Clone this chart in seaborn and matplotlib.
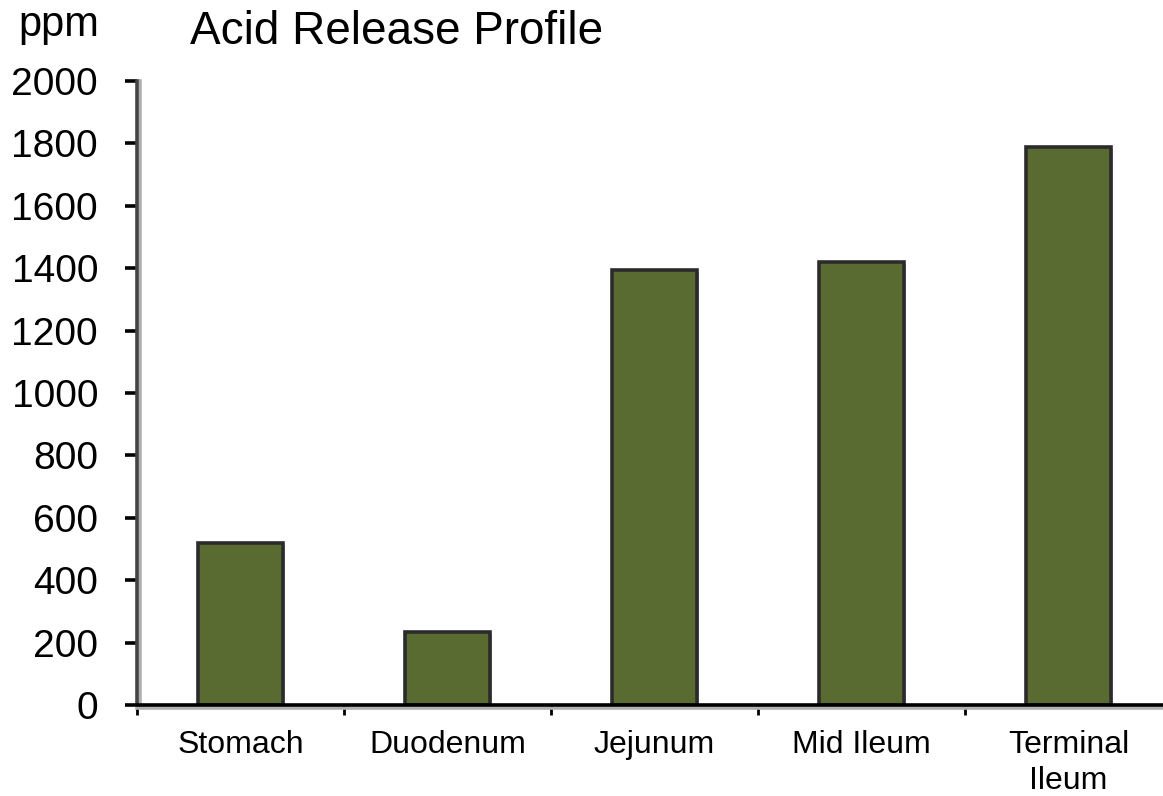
import matplotlib
matplotlib.use("Agg")
import matplotlib.pyplot as plt
import matplotlib.patheffects as pe
from matplotlib.ticker import FixedLocator, MultipleLocator, NullFormatter
import seaborn as sns
import pandas as pd

# Acid release by gut region (ppm)
regions = ["Stomach", "Duodenum", "Jejunum", "Mid Ileum", "Terminal\nIleum"]
release_ppm = [520, 235, 1395, 1420, 1790]

sns.set_theme(style="white")
plt.rcParams["font.family"] = ["Liberation Sans", "DejaVu Sans"]
plt.rcParams["text.color"] = "black"
plt.rcParams["xtick.color"] = "black"
plt.rcParams["ytick.color"] = "black"
plt.rcParams["xtick.labelcolor"] = "black"
plt.rcParams["ytick.labelcolor"] = "black"

df = pd.DataFrame({"region": regions, "ppm": release_ppm})

fig = plt.figure(figsize=(11.63, 7.96), dpi=100)
ax = fig.add_axes([0.1178, 0.1143, 0.8899, 0.7839])

sns.barplot(data=df, x="region", y="ppm", ax=ax, color="#5a6b31",
            saturation=1, width=0.41, edgecolor="#2b2b2b", linewidth=2.6)

for bar in ax.patches:
    bar.set_path_effects([pe.SimplePatchShadow(offset=(1.5, -1.5),
                                               shadow_rgbFace="#9a9a9a",
                                               alpha=0.8), pe.Normal()])

ax.set_xlim(-0.5, len(regions) - 0.5)
ax.set_ylim(0, 2000)
ax.yaxis.set_major_locator(MultipleLocator(200))

ax.set_xlabel("")
ax.set_ylabel("")

for side in ["top", "right"]:
    ax.spines[side].set_visible(False)
ax.spines["left"].set_color("#444444")
ax.spines["left"].set_linewidth(2.6)
ax.spines["left"].set_path_effects([pe.SimpleLineShadow(offset=(2, 0), shadow_color="#b0b0b0", alpha=1), pe.Normal()])
ax.spines["bottom"].set_color("black")
ax.spines["bottom"].set_linewidth(2.6)
ax.spines["bottom"].set_path_effects([pe.SimpleLineShadow(offset=(0, -2), shadow_color="#b0b0b0", alpha=1), pe.Normal()])

ax.tick_params(axis="y", which="major", direction="out", length=9, width=2.6,
               color="black", labelcolor="black", labelsize=28, pad=19, left=True)
ax.tick_params(axis="x", which="major", length=0, labelsize=23, pad=18,
               labelcolor="black")
ax.xaxis.set_minor_locator(FixedLocator([i - 0.5 for i in range(len(regions) + 1)]))
ax.xaxis.set_minor_formatter(NullFormatter())
ax.tick_params(axis="x", which="minor", direction="out", length=7, width=2,
               color="black", bottom=True)

for lbl in ax.get_xticklabels():
    lbl.set_linespacing(1.25)
    lbl.set_verticalalignment("top")

fig.text(0.016, 0.968, "ppm", fontsize=30, ha="left", va="center", color="black")
fig.text(0.163, 0.960, "Acid Release Profile", fontsize=33, ha="left", va="center",
         color="black")

fig.savefig("out.png", dpi=100, facecolor="white")
